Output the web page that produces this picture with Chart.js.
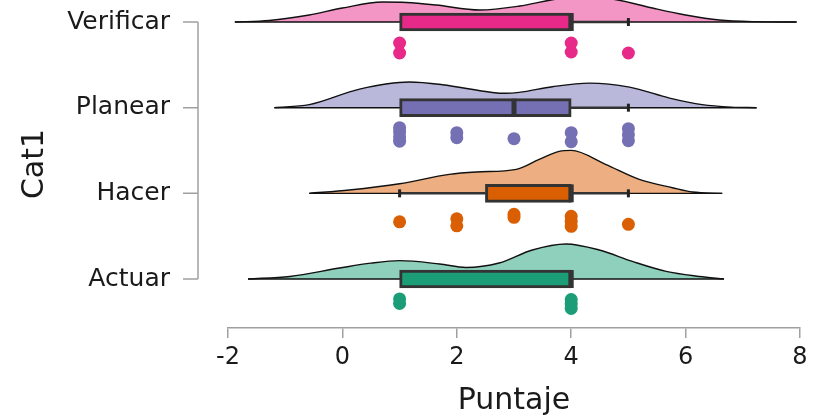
<!DOCTYPE html>
<html>
<head>
<meta charset="utf-8">
<script src="https://cdn.jsdelivr.net/npm/chart.js@4"></script>
<style>
html,body{margin:0;padding:0;background:#fff;}
#wrap{width:814px;height:419px;}
</style>
</head>
<body>
<div id="wrap"><canvas id="raincloud"></canvas></div>
<script>
// categories, bottom to top
const categories = ["Actuar", "Hacer", "Planear", "Verificar"];
const catPos = [1, 2, 3, 4];
const boxColors = ["#1B9E77", "#D95F02", "#7570B3", "#E7298A"];
const cloudColors = ["#8FD0BC", "#EDAF81", "#BAB8DA", "#F396C5"];

// box plot stats
const q1 = [1, 2.5, 1, 1];
const median = [4, 4, 3, 4];
const q3 = [4, 4, 4, 4];
const whiskerLow = [1, 1, 1, 1];
const whiskerHigh = [4, 5, 5, 5];

// density ("cloud") for each category: x grid and height in category units
const densActuarX = [-1.65, -0.92, -0.05, 0.5, 1.0, 1.7, 2.16, 2.74, 3.32, 3.91, 4.49, 5.07, 5.66, 6.24, 6.67];
const densActuarH = [0, 0.03, 0.128, 0.185, 0.214, 0.175, 0.135, 0.187, 0.339, 0.409, 0.339, 0.205, 0.089, 0.03, 0];
const densHacerX = [-0.58, 0.12, 1.0, 1.87, 2.34, 3.04, 3.44, 3.79, 4.0, 4.6, 5.19, 5.77, 6.12, 6.64];
const densHacerH = [0, 0.039, 0.112, 0.222, 0.249, 0.28, 0.397, 0.49, 0.502, 0.339, 0.163, 0.065, 0.015, 0];
const densPlanearX = [-1.19, -0.58, 0.30, 1.17, 1.75, 2.62, 2.85, 3.09, 3.67, 4.32, 5.02, 5.72, 6.29, 6.8, 7.24];
const densPlanearH = [0, 0.035, 0.217, 0.299, 0.268, 0.178, 0.168, 0.178, 0.245, 0.287, 0.24, 0.112, 0.035, 0.006, 0];
const densVerificarX = [-1.88, -1.28, -0.58, 0.0, 0.7, 1.12, 1.64, 2.4, 3.1, 3.67, 4.2, 4.79, 5.42, 6.0, 6.59, 7.2, 7.94];
const densVerificarH = [0, 0.018, 0.082, 0.163, 0.233, 0.228, 0.198, 0.14, 0.187, 0.26, 0.30, 0.26, 0.163, 0.082, 0.023, 0.004, 0];

// raw scores (rain), y is the jittered position
const ptsActuarX = [1, 1, 4, 4, 4];
const ptsActuarY = [0.767, 0.714, 0.761, 0.708, 0.656];
const ptsHacerX = [1, 2, 2, 3, 3, 4, 4, 4, 5];
const ptsHacerY = [1.667, 1.702, 1.621, 1.755, 1.720, 1.732, 1.673, 1.615, 1.638];
const ptsPlanearX = [1, 1, 1, 1, 2, 2, 3, 4, 4, 5, 5, 5];
const ptsPlanearY = [2.767, 2.720, 2.661, 2.609, 2.708, 2.650, 2.638, 2.708, 2.603, 2.755, 2.685, 2.615];
const ptsVerificarX = [1, 1, 4, 4, 5];
const ptsVerificarY = [3.755, 3.638, 3.755, 3.650, 3.638];

const xTicks = [-2, 0, 2, 4, 6, 8];

const clouds = [
  {x: densActuarX, h: densActuarH},
  {x: densHacerX, h: densHacerH},
  {x: densPlanearX, h: densPlanearH},
  {x: densVerificarX, h: densVerificarH}
];
const rain = [
  {x: ptsActuarX, y: ptsActuarY},
  {x: ptsHacerX, y: ptsHacerY},
  {x: ptsPlanearX, y: ptsPlanearY},
  {x: ptsVerificarX, y: ptsVerificarY}
];

const datasets = [];

clouds.forEach((c, i) => {
  datasets.push({
    type: "line",
    data: c.x.map((v, k) => ({x: v, y: catPos[i] + c.h[k]})),
    borderColor: "#111",
    borderWidth: 1.4,
    backgroundColor: cloudColors[i],
    fill: {value: catPos[i]},
    pointRadius: 0,
    cubicInterpolationMode: "monotone",
    clip: false,
    order: 6
  });
  datasets.push({
    type: "line",
    data: [{x: c.x[0], y: catPos[i]}, {x: c.x[c.x.length - 1], y: catPos[i]}],
    borderColor: "#111",
    borderWidth: 1.4,
    pointRadius: 0,
    fill: false,
    order: 5
  });
});

// whiskers
catPos.forEach((p, i) => {
  if (whiskerLow[i] < q1[i]) {
    datasets.push({type: "line", data: [{x: whiskerLow[i], y: p}, {x: q1[i], y: p}],
      borderColor: "#333", borderWidth: 2.5, pointRadius: 0, fill: false, order: 4});
  }
  if (whiskerHigh[i] > q3[i]) {
    datasets.push({type: "line", data: [{x: q3[i], y: p}, {x: whiskerHigh[i], y: p}],
      borderColor: "#333", borderWidth: 2.5, pointRadius: 0, fill: false, order: 4});
  }
});

// whisker caps
const caps = [];
catPos.forEach((p, i) => {
  if (whiskerLow[i] < q1[i]) caps.push({x: whiskerLow[i], y: p});
  if (whiskerHigh[i] > q3[i]) caps.push({x: whiskerHigh[i], y: p});
});
datasets.push({
  type: "scatter", data: caps, pointStyle: "line", pointRotation: 90,
  pointRadius: 4, pointBorderWidth: 3, pointBorderColor: "#222", order: 3
});

// boxes
datasets.push({
  type: "bar",
  indexAxis: "y",
  data: catPos.map((p, i) => ({x: [q1[i], q3[i]], y: p})),
  backgroundColor: boxColors,
  borderColor: "#333",
  borderWidth: 3,
  borderSkipped: false,
  barThickness: 18,
  order: 2
});

// medians
datasets.push({
  type: "scatter",
  data: catPos.map((p, i) => ({x: median[i], y: p})),
  pointStyle: "line", pointRotation: 90,
  pointRadius: 9, pointBorderWidth: 5, pointBorderColor: "#333",
  order: 1
});

// rain points
rain.forEach((r, i) => {
  datasets.push({
    type: "scatter",
    data: r.x.map((v, k) => ({x: v, y: r.y[k]})),
    pointRadius: 6.5,
    pointBorderWidth: 0,
    pointBackgroundColor: boxColors[i],
    order: 1
  });
});

const yAxisLine = {
  id: "yAxisLine",
  afterDraw(chart) {
    const ys = chart.scales.y;
    const ctx = chart.ctx;
    const x0 = chart.chartArea.left - 30;
    ctx.save();
    ctx.strokeStyle = "#a0a0a0";
    ctx.lineWidth = 1.5;
    ctx.beginPath();
    ctx.moveTo(x0, ys.getPixelForValue(catPos[catPos.length - 1]));
    ctx.lineTo(x0, ys.getPixelForValue(catPos[0]));
    catPos.forEach(v => {
      const py = ys.getPixelForValue(v);
      ctx.moveTo(x0, py);
      ctx.lineTo(x0 - 15, py);
    });
    ctx.stroke();
    ctx.restore();
  }
};

new Chart(document.getElementById("raincloud"), {
  type: "scatter",
  data: {datasets: datasets},
  options: {
    responsive: true,
    maintainAspectRatio: false,
    animation: false,
    events: [],
    layout: {autoPadding: false, padding: {left: 0, right: 14, top: 0, bottom: 0}},
    plugins: {legend: {display: false}, tooltip: {enabled: false}},
    scales: {
      x: {
        type: "linear",
        min: -2, max: 8,
        offset: false,
        afterBuildTicks: s => { s.ticks = xTicks.map(v => ({value: v})); },
        afterFit: s => { s.height = 91; s.paddingLeft = 0; s.paddingRight = 0; },
        grid: {display: true, drawOnChartArea: false, drawTicks: true, tickLength: 10, color: "#a0a0a0", lineWidth: 1.5},
        border: {display: true, color: "#a0a0a0", width: 1.5},
        ticks: {color: "#1a1a1a", font: {family: "DejaVu Sans", size: 24}, padding: 5, maxRotation: 0},
        title: {display: true, text: "Puntaje", color: "#1a1a1a", font: {family: "DejaVu Sans", size: 30}, padding: {top: 1, bottom: 0}}
      },
      y: {
        type: "linear",
        min: 0.428, max: 4.257,
        offset: false,
        beginAtZero: false,
        afterBuildTicks: s => { s.ticks = catPos.map(v => ({value: v})); },
        afterFit: s => { s.width = 228; s.paddingTop = 0; s.paddingBottom = 0; },
        grid: {display: false, drawTicks: false},
        border: {display: false},
        ticks: {
          color: "#1a1a1a", font: {family: "DejaVu Sans", size: 25}, padding: 58,
          callback: v => categories[catPos.indexOf(v)]
        },
        title: {display: true, text: "Cat1", color: "#1a1a1a", font: {family: "DejaVu Sans", size: 30}, padding: {top: 17, bottom: 0}}
      }
    }
  },
  plugins: [yAxisLine]
});
</script>
</body>
</html>
